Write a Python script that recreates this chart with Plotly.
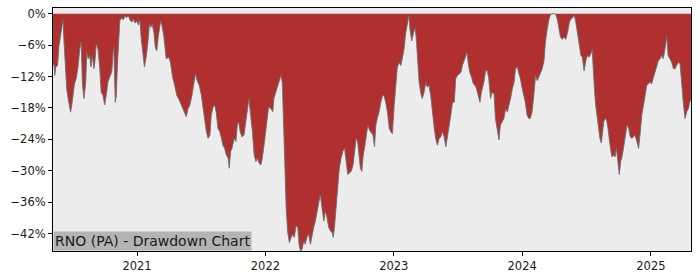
import plotly.graph_objects as go

# ---- data (drawdown in %) ----
dates_2020 = ["2020-05-07","2020-05-10","2020-05-12","2020-05-15","2020-05-20","2020-05-24","2020-05-28","2020-05-31",
              "2020-06-04","2020-06-08","2020-06-12","2020-06-15","2020-06-19","2020-06-23","2020-06-26","2020-06-30",
              "2020-07-04","2020-07-07","2020-07-12","2020-07-17","2020-07-22","2020-07-26","2020-07-30","2020-08-03",
              "2020-08-08","2020-08-11","2020-08-15","2020-08-19","2020-08-23","2020-08-27","2020-08-31","2020-09-03",
              "2020-09-07","2020-09-12","2020-09-17","2020-09-21","2020-09-26","2020-10-01","2020-10-06","2020-10-10",
              "2020-10-15","2020-10-21","2020-10-25","2020-10-27","2020-10-31","2020-11-03","2020-11-06","2020-11-10",
              "2020-11-13","2020-11-18","2020-11-23","2020-11-28","2020-12-02","2020-12-07","2020-12-12","2020-12-17",
              "2020-12-22","2020-12-26"]
dd_2020 = [-9.9,-9.6,-11.8,-10.2,-9.9,-6.1,-4.5,-3.0,
           -1.1,-6.1,-11.2,-14.3,-16.2,-17.5,-18.8,-17.2,
           -14.3,-13.4,-12.4,-10.2,-6.8,-5.4,-13.7,-16.2,
           -13.1,-7.4,-8.6,-8.0,-10.2,-8.0,-10.5,-9.3,
           -5.8,-6.8,-10.5,-15.0,-15.6,-17.4,-15.3,-13.1,
           -12.1,-11.2,-7.4,-6.4,-16.9,-15.6,-9.9,-3.6,
           -1.4,-0.8,-1.2,-0.4,-0.8,-0.4,-1.2,-1.6,
           -1.1,-1.8]

dates_2021 = ["2021-01-01","2021-01-05","2021-01-09","2021-01-13","2021-01-17","2021-01-22","2021-01-26","2021-01-31",
              "2021-02-05","2021-02-09","2021-02-13","2021-02-18","2021-02-22","2021-02-26","2021-03-02","2021-03-09",
              "2021-03-13","2021-03-18","2021-03-25","2021-04-01","2021-04-06","2021-04-12","2021-04-18","2021-04-24",
              "2021-04-29","2021-05-03","2021-05-09","2021-05-14","2021-05-21","2021-05-26","2021-05-31","2021-06-06",
              "2021-06-12","2021-06-16","2021-06-21","2021-06-27","2021-07-03","2021-07-07","2021-07-12","2021-07-17",
              "2021-07-22","2021-07-27","2021-07-31","2021-08-05","2021-08-10","2021-08-14","2021-08-19","2021-08-24",
              "2021-08-29","2021-09-02","2021-09-07","2021-09-12","2021-09-17","2021-09-20","2021-09-24","2021-09-28",
              "2021-10-04","2021-10-09","2021-10-13","2021-10-17","2021-10-21","2021-10-26","2021-11-01","2021-11-05",
              "2021-11-11","2021-11-15","2021-11-20","2021-11-25","2021-11-30","2021-12-05","2021-12-09","2021-12-14",
              "2021-12-19","2021-12-23","2021-12-28"]
dd_2021 = [-1.4,-2.2,-1.1,-4.9,-8.0,-10.2,-8.6,-6.1,
           -2.0,-2.6,-2.0,-3.6,-6.5,-7.1,-4.5,-1.4,
           -2.3,-4.2,-8.6,-8.3,-9.3,-12.1,-13.7,-15.6,
           -16.2,-16.9,-17.8,-18.8,-19.7,-18.1,-17.5,-15.6,
           -13.1,-11.5,-12.8,-13.7,-15.6,-17.5,-19.4,-22.5,
           -23.8,-23.2,-19.4,-17.8,-17.5,-18.8,-21.9,-22.5,
           -23.8,-25.1,-25.7,-27.0,-27.6,-29.5,-26.3,-25.7,
           -23.8,-24.4,-21.3,-20.6,-22.5,-23.5,-23.2,-21.3,
           -17.5,-16.2,-19.4,-22.5,-27.0,-28.2,-27.6,-28.5,
           -28.9,-27.6,-25.1]

dates_2022 = ["2022-01-01","2022-01-05","2022-01-08","2022-01-10","2022-01-16","2022-01-22","2022-01-25","2022-01-31",
              "2022-02-05","2022-02-09","2022-02-14","2022-02-18","2022-02-22","2022-02-26","2022-03-01","2022-03-05",
              "2022-03-10","2022-03-15","2022-03-20","2022-03-24","2022-03-29","2022-04-03","2022-04-07","2022-04-11",
              "2022-04-15","2022-04-20","2022-04-24","2022-04-29","2022-05-04","2022-05-09","2022-05-14","2022-05-18",
              "2022-05-23","2022-05-28","2022-06-02","2022-06-06","2022-06-11","2022-06-16","2022-06-20","2022-06-25",
              "2022-06-30","2022-07-05","2022-07-10","2022-07-13","2022-07-17","2022-07-21","2022-07-26","2022-07-30",
              "2022-08-04","2022-08-09","2022-08-14","2022-08-18","2022-08-23","2022-08-28","2022-09-02","2022-09-07",
              "2022-09-11","2022-09-16","2022-09-20","2022-09-24","2022-09-28","2022-10-02","2022-10-06","2022-10-11",
              "2022-10-14","2022-10-19","2022-10-24","2022-10-29","2022-11-03","2022-11-07","2022-11-11","2022-11-15",
              "2022-11-20","2022-11-25","2022-11-30","2022-12-04","2022-12-09","2022-12-14","2022-12-19","2022-12-23",
              "2022-12-28"]
dd_2022 = [-22.5,-20.0,-18.1,-17.8,-18.1,-18.7,-16.2,-15.0,
           -14.0,-12.8,-11.8,-13.1,-22.5,-30.1,-37.1,-41.5,
           -43.7,-42.7,-42.1,-42.7,-40.5,-40.8,-44.3,-45.3,
           -45.0,-43.4,-44.0,-42.7,-42.1,-44.0,-42.1,-40.8,
           -39.6,-37.7,-35.8,-34.5,-37.1,-39.6,-37.7,-38.9,
           -40.8,-41.5,-41.8,-42.7,-40.2,-37.1,-33.9,-29.5,
           -27.6,-26.3,-25.7,-28.2,-30.7,-30.4,-30.1,-28.9,
           -26.3,-23.8,-24.4,-27.6,-29.5,-30.1,-27.0,-25.1,
           -23.8,-21.3,-22.2,-22.8,-23.2,-25.4,-21.3,-20.0,
           -18.8,-16.9,-15.6,-15.6,-16.9,-18.8,-21.9,-22.5,
           -22.9]

dates_2023 = ["2023-01-02","2023-01-07","2023-01-11","2023-01-16","2023-01-21","2023-01-25","2023-01-30","2023-02-04",
              "2023-02-09","2023-02-13","2023-02-16","2023-02-21","2023-02-26","2023-03-03","2023-03-06","2023-03-10",
              "2023-03-14","2023-03-19","2023-03-23","2023-03-28","2023-04-02","2023-04-06","2023-04-11","2023-04-16",
              "2023-04-21","2023-04-26","2023-04-30","2023-05-05","2023-05-10","2023-05-15","2023-05-19","2023-05-24",
              "2023-05-29","2023-06-02","2023-06-07","2023-06-12","2023-06-17","2023-06-22","2023-06-26","2023-07-01",
              "2023-07-06","2023-07-11","2023-07-15","2023-07-20","2023-07-25","2023-07-28","2023-08-01","2023-08-05",
              "2023-08-10","2023-08-15","2023-08-20","2023-08-24","2023-08-29","2023-09-03","2023-09-07","2023-09-14",
              "2023-09-19","2023-09-24","2023-09-28","2023-10-03","2023-10-08","2023-10-13","2023-10-17","2023-10-22",
              "2023-10-27","2023-10-31","2023-11-05","2023-11-10","2023-11-15","2023-11-20","2023-11-24","2023-11-29",
              "2023-12-04","2023-12-09","2023-12-13","2023-12-18","2023-12-23","2023-12-27"]
dd_2023 = [-17.5,-12.4,-10.2,-9.3,-9.9,-8.6,-6.8,-3.6,
           -1.4,-0.4,-3.0,-5.2,-3.6,-2.7,-4.9,-8.6,
           -13.1,-15.3,-16.2,-15.0,-13.1,-14.0,-13.7,-15.6,
           -19.4,-21.9,-23.8,-25.1,-23.8,-23.5,-22.5,-23.5,
           -25.4,-23.8,-21.9,-19.4,-16.9,-16.9,-12.4,-11.8,
           -11.5,-11.2,-9.9,-9.0,-7.7,-7.4,-9.6,-11.2,
           -12.1,-13.4,-13.7,-14.3,-15.6,-16.9,-15.0,-13.1,
           -10.9,-10.9,-12.4,-16.2,-15.0,-15.3,-20.0,-21.9,
           -24.1,-21.3,-20.6,-20.0,-18.1,-18.8,-17.5,-16.2,
           -14.3,-13.1,-10.5,-10.2,-11.5,-12.4]

dates_2024 = ["2024-01-01","2024-01-06","2024-01-10","2024-01-15","2024-01-20","2024-01-24","2024-01-29","2024-02-03",
              "2024-02-08","2024-02-13","2024-02-17","2024-02-22","2024-02-27","2024-03-03","2024-03-07","2024-03-12",
              "2024-03-17","2024-03-22","2024-03-27","2024-04-01","2024-04-05","2024-04-10","2024-04-15","2024-04-19",
              "2024-04-24","2024-04-29","2024-05-04","2024-05-09","2024-05-14","2024-05-18","2024-05-23","2024-05-28",
              "2024-06-01","2024-06-06","2024-06-11","2024-06-16","2024-06-20","2024-06-25","2024-06-30","2024-07-04",
              "2024-07-09","2024-07-14","2024-07-18","2024-07-21","2024-07-25","2024-07-28","2024-08-01","2024-08-05",
              "2024-08-09","2024-08-13","2024-08-16","2024-08-20","2024-08-24","2024-08-28","2024-09-01","2024-09-04",
              "2024-09-08","2024-09-12","2024-09-17","2024-09-21","2024-09-25","2024-09-29","2024-10-03","2024-10-07",
              "2024-10-10","2024-10-15","2024-10-20","2024-10-25","2024-10-30","2024-11-03","2024-11-08","2024-11-12",
              "2024-11-17","2024-11-22","2024-11-27","2024-12-02","2024-12-06","2024-12-11","2024-12-16","2024-12-20",
              "2024-12-25","2024-12-30"]
dd_2024 = [-14.3,-15.6,-16.9,-19.4,-20.0,-20.0,-18.8,-15.6,
           -11.8,-12.8,-12.1,-11.2,-10.5,-9.0,-5.5,-3.0,
           -1.1,-0.1,0.0,0.0,-0.1,-1.1,-3.0,-4.5,
           -4.9,-4.5,-4.9,-3.6,-1.7,-1.1,-0.8,-0.3,
           -1.4,-3.6,-6.1,-8.0,-8.3,-10.9,-9.0,-8.0,
           -8.3,-7.7,-6.8,-11.2,-15.0,-17.5,-20.0,-22.5,
           -23.8,-24.7,-23.2,-20.6,-20.0,-20.3,-21.9,-23.8,
           -25.7,-27.3,-27.0,-27.3,-25.7,-28.2,-30.7,-28.2,
           -27.6,-25.7,-23.8,-21.3,-21.9,-23.5,-23.8,-23.5,
           -23.2,-24.4,-25.7,-22.5,-19.4,-17.5,-15.0,-13.7,
           -13.4,-13.1]

dates_2025 = ["2025-01-03","2025-01-08","2025-01-13","2025-01-18","2025-01-22","2025-01-27","2025-02-01","2025-02-05",
              "2025-02-10","2025-02-15","2025-02-19","2025-02-24","2025-03-01","2025-03-06","2025-03-11","2025-03-15",
              "2025-03-20","2025-03-25","2025-03-29","2025-04-03","2025-04-08","2025-04-13","2025-04-18","2025-04-21",
              "2025-04-25"]
dd_2025 = [-13.4,-12.1,-10.9,-9.9,-9.0,-8.6,-8.0,-8.6,
           -6.8,-4.2,-8.0,-8.6,-9.3,-10.5,-10.5,-9.9,
           -9.3,-9.6,-13.7,-16.9,-20.0,-18.7,-18.1,-16.9,
           -16.5]

ytick_vals = [0, -6, -12, -18, -24, -30, -36, -42]
ytick_text = ["0%", "\u22126%", "\u221212%", "\u221218%", "\u221224%", "\u221230%", "\u221236%", "\u221242%"]
xtick_vals = ["2021-01-01", "2022-01-01", "2023-01-01", "2024-01-01", "2025-01-01"]
xtick_text = ["2021", "2022", "2023", "2024", "2025"]
title_text = "RNO (PA) - Drawdown Chart"

dates = dates_2020 + dates_2021 + dates_2022 + dates_2023 + dates_2024 + dates_2025
drawdown = dd_2020 + dd_2021 + dd_2022 + dd_2023 + dd_2024 + dd_2025

FONT = "DejaVu Sans"

fig = go.Figure()
fig.add_trace(go.Scatter(
    x=dates, y=drawdown, mode="lines", fill="tozeroy",
    fillcolor="#b03030",
    line=dict(color="rgba(110,110,110,0.9)", width=1),
    hoverinfo="skip", showlegend=False,
))

fig.update_layout(
    width=700, height=280,
    margin=dict(l=53, r=9, t=7, b=28),
    paper_bgcolor="white",
    plot_bgcolor="#ececec",
    font=dict(family=FONT, size=11, color="#1a1a1a"),
    showlegend=False,
)
fig.update_xaxes(
    range=[dates[0], dates[-1]],
    tickvals=xtick_vals, ticktext=xtick_text,
    ticks="outside", ticklen=4, tickwidth=1, tickcolor="black",
    showgrid=False, zeroline=False,
    showline=True, linecolor="black", linewidth=1, mirror=True,
    tickfont=dict(family=FONT, size=11.5, color="#1a1a1a"),
)
fig.update_yaxes(
    range=[-45.3, 1.08],
    tickvals=ytick_vals, ticktext=ytick_text,
    ticks="outside", ticklen=4, tickwidth=1, tickcolor="black",
    showgrid=False, zeroline=False,
    showline=True, linecolor="black", linewidth=1, mirror=True,
    tickfont=dict(family=FONT, size=11.5, color="#1a1a1a"),
)
fig.add_annotation(
    xref="paper", yref="paper", x=0, y=0, xanchor="left", yanchor="bottom",
    text=title_text, showarrow=False,
    font=dict(family=FONT, size=14, color="#1a1a1a"),
    bgcolor="#b4b4b4", borderpad=1,
)

fig.write_html("out.html")
